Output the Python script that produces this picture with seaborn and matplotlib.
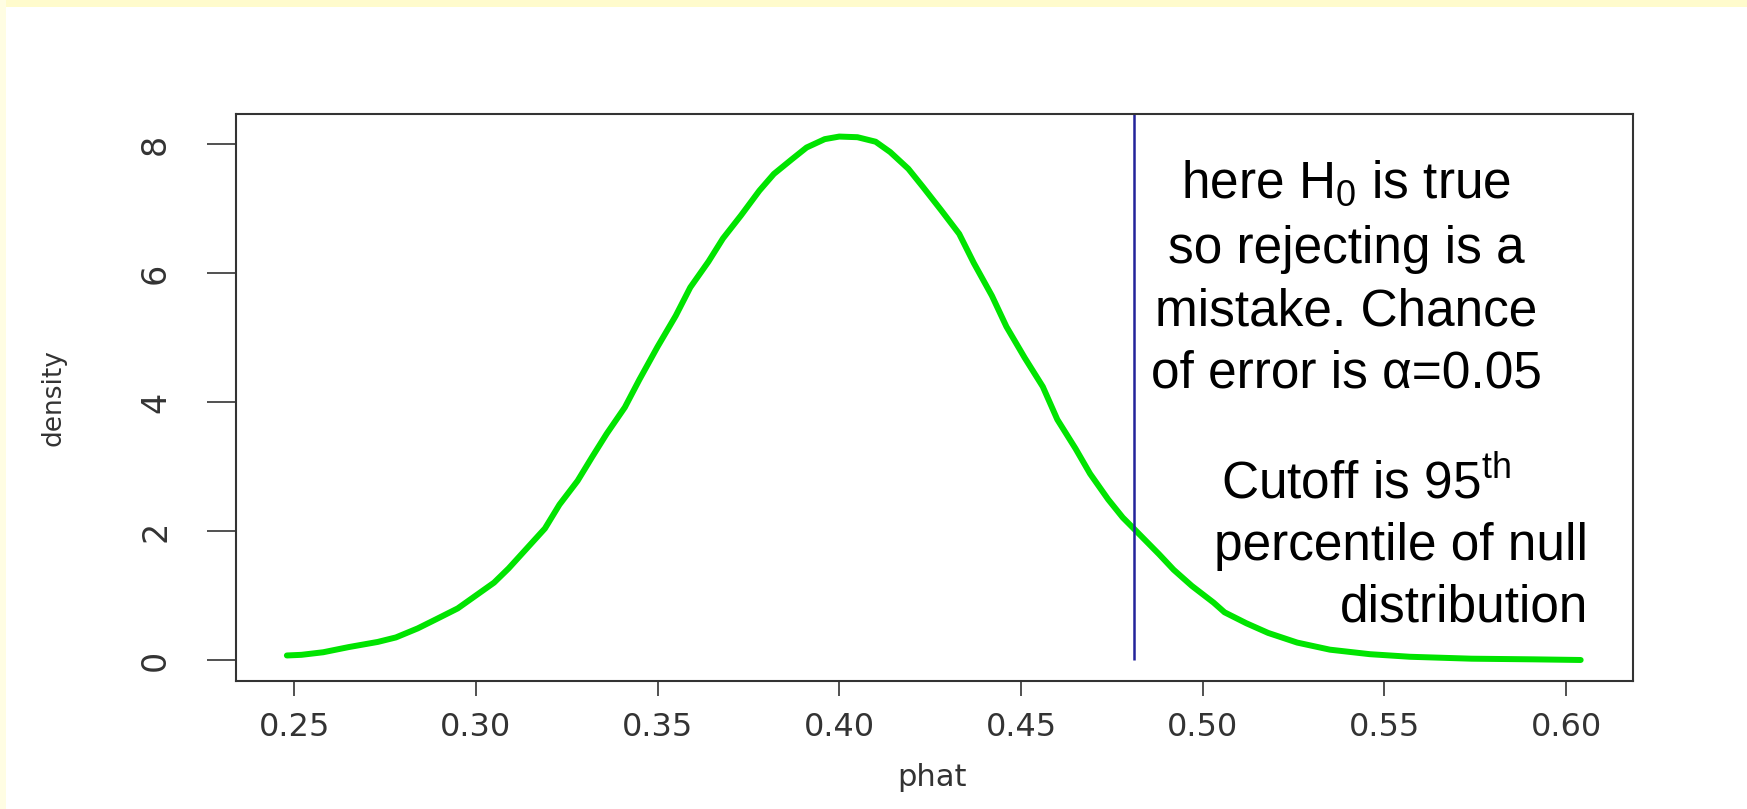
import numpy as np
import pandas as pd
import matplotlib
matplotlib.use("Agg")
import matplotlib.pyplot as plt
import seaborn as sns
from matplotlib.patches import Rectangle

# Values
phat = [0.248, 0.252, 0.258, 0.265, 0.273, 0.278, 0.284, 0.289, 0.295, 0.300,
        0.305, 0.309, 0.314, 0.319, 0.323, 0.328, 0.332, 0.336, 0.341, 0.345,
        0.350, 0.355, 0.359, 0.364, 0.368, 0.373, 0.378, 0.382, 0.387, 0.391,
        0.396, 0.400, 0.405, 0.410, 0.414, 0.419, 0.423, 0.428, 0.433, 0.437,
        0.442, 0.446, 0.451, 0.456, 0.460, 0.465, 0.469, 0.474, 0.478, 0.481,
        0.488, 0.492, 0.497, 0.503, 0.506, 0.512, 0.518, 0.526, 0.535, 0.546,
        0.557, 0.574, 0.591, 0.604]
density = [0.07, 0.08, 0.12, 0.20, 0.28, 0.35, 0.49, 0.63, 0.80, 1.00,
           1.20, 1.42, 1.73, 2.04, 2.41, 2.78, 3.15, 3.51, 3.92, 4.35,
           4.86, 5.34, 5.78, 6.18, 6.54, 6.90, 7.28, 7.54, 7.77, 7.95,
           8.08, 8.12, 8.11, 8.04, 7.88, 7.62, 7.34, 6.98, 6.61, 6.16,
           5.65, 5.17, 4.69, 4.24, 3.73, 3.28, 2.89, 2.49, 2.21, 2.04,
           1.64, 1.40, 1.15, 0.89, 0.74, 0.57, 0.42, 0.27, 0.16, 0.09,
           0.05, 0.02, 0.01, 0.00]
cutoff = 0.481

x_ticks = [0.25, 0.30, 0.35, 0.40, 0.45, 0.50, 0.55, 0.60]
x_tick_labels = ["0.25", "0.30", "0.35", "0.40", "0.45", "0.50", "0.55", "0.60"]
y_ticks = [0, 2, 4, 6, 8]

note_lines = ["here H$_\\mathrm{0}$ is true", "so rejecting is a",
              "mistake. Chance", "of error is \u03b1=0.05"]
cutoff_lines = ["Cutoff is 95$^\\mathrm{th}$", "percentile of null", "distribution"]

df = pd.DataFrame({"phat": phat, "density": density})

sns.set_style("white")
plt.rcParams["font.family"] = ["DejaVu Sans"]
plt.rcParams["mathtext.fontset"] = "custom"
plt.rcParams["mathtext.rm"] = "Liberation Sans"
plt.rcParams["mathtext.it"] = "Liberation Sans:italic"

W, H = 1747, 809
fig = plt.figure(figsize=(W / 100, H / 100), dpi=100)
fig.patch.set_facecolor("white")

# pale yellow slide border at top and left
fig.patches.append(Rectangle((0, 1 - 7 / H), 1, 7 / H, transform=fig.transFigure,
                             facecolor="#fffbcc", edgecolor="none", zorder=0))
fig.patches.append(Rectangle((0, 0), 6 / W, 1, transform=fig.transFigure,
                             facecolor="#fffde3", edgecolor="none", zorder=0))

ax = fig.add_axes([236 / W, 1 - 681 / H, (1633 - 236) / W, (681 - 114) / H])

sns.lineplot(data=df, x="phat", y="density", color="#00e400", linewidth=4.3,
             estimator=None, ax=ax, solid_joinstyle="round", solid_capstyle="round")

ax.set_xlim(0.2340, 0.6184)
ax.set_ylim(-0.326, 8.47)
ax.vlines(cutoff, 0, 8.47, color="#23239a", linewidth=1.8)

ax.set_xticks(x_ticks)
ax.set_xticklabels(x_tick_labels)
ax.set_yticks(y_ticks)
ax.set_yticklabels([str(v) for v in y_ticks], rotation=90, va="center")
ax.tick_params(axis="x", length=11, width=1.2, pad=11, labelsize=23,
               colors="#333333", direction="out", bottom=True)
ax.tick_params(axis="y", length=21, width=1.2, pad=25, labelsize=24,
               colors="#333333", direction="out", left=True)
ax.set_xlabel("")
ax.set_ylabel("")
for s in ax.spines.values():
    s.set_color("#333333")
    s.set_linewidth(1.5)

fig.text(932 / W, 1 - 778 / H, "phat", ha="center", va="center",
         fontsize=22, color="#333333")
fig.text(53 / W, 1 - 398 / H, "density", ha="center", va="center",
         rotation=90, fontsize=19, color="#333333")

# annotation text blocks
note_font = dict(family="Liberation Sans", fontsize=37, color="black")
for line, base in zip(note_lines, [198, 263, 326, 388]):
    fig.text(1346 / W, 1 - base / H, line, ha="center", va="baseline", **note_font)

fig.text(1366 / W, 1 - 498 / H, cutoff_lines[0], ha="center", va="baseline", **note_font)
for line, base in zip(cutoff_lines[1:], [560, 622]):
    fig.text(1588 / W, 1 - base / H, line, ha="right", va="baseline", **note_font)

fig.savefig("out.png", dpi=100, facecolor=fig.get_facecolor())
